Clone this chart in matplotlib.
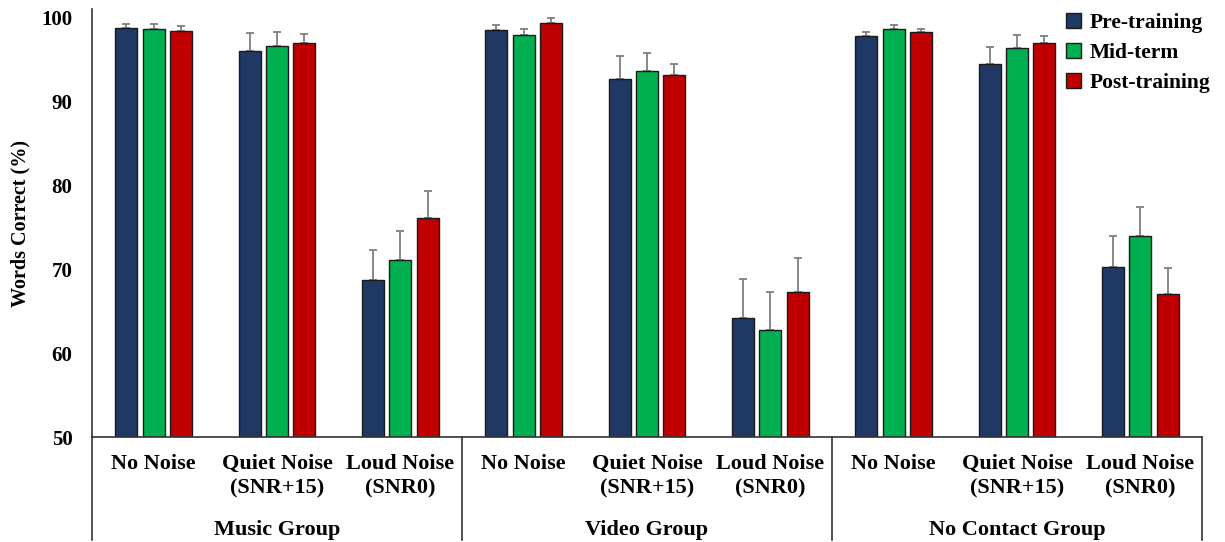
import matplotlib as mpl
import matplotlib.pyplot as plt
from matplotlib.patches import Patch
import numpy as np

conditions = ["No Noise", "Quiet Noise\n(SNR+15)", "Loud Noise\n(SNR0)"]
groups = ["Music Group", "Video Group", "No Contact Group"]
series = ["Pre-training", "Mid-term", "Post-training"]
colors = ["#1F3864", "#00B050", "#C00000"]

# means, ordered Music (3 conditions), Video, No Contact
pre = [98.7, 96.0, 68.7, 98.5, 92.7, 64.2, 97.8, 94.4, 70.3]
mid = [98.6, 96.6, 71.1, 97.9, 93.6, 62.8, 98.6, 96.3, 73.9]
post = [98.4, 96.9, 76.1, 99.3, 93.1, 67.3, 98.2, 96.9, 67.1]
# upper error bar tops
pre_top = [99.2, 98.1, 72.3, 99.1, 95.4, 68.8, 98.3, 96.5, 73.9]
mid_top = [99.2, 98.3, 74.6, 98.6, 95.7, 67.3, 99.1, 97.9, 77.4]
post_top = [99.0, 98.0, 79.3, 99.9, 94.4, 71.3, 98.6, 97.8, 70.1]

plt.rcParams["font.family"] = "Liberation Serif"
plt.rcParams["font.weight"] = "bold"
plt.rcParams["axes.labelweight"] = "bold"

fig = plt.figure(figsize=(12.25, 5.42), dpi=100)
ax = fig.add_axes([0.0751, 0.1937, 0.9061, 0.7897])

x = np.arange(9)
w = 0.178
step = 0.222
for k, (vals, tops) in enumerate([(pre, pre_top), (mid, mid_top), (post, post_top)]):
    vals = np.array(vals)
    err = np.array(tops) - vals
    ax.bar(x + (k - 1) * step, vals - 50, w, bottom=50, color=colors[k],
           edgecolor="#1a1a1a", linewidth=1.0, zorder=2)
    ax.errorbar(x + (k - 1) * step, vals, yerr=[np.zeros(9), err], fmt="none",
                ecolor="#7f7f7f", elinewidth=1.3, capsize=3, capthick=1.3, zorder=1)

ax.set_xlim(-0.5, 8.5)
ax.set_ylim(50, 101)
ax.set_yticks([50, 60, 70, 80, 90, 100])
ax.tick_params(axis="y", length=0, pad=14, labelsize=15)
ax.tick_params(axis="x", length=0, pad=12, labelsize=16)
ax.set_xticks(x)
ax.set_xticklabels(conditions * 3, linespacing=1.35)
ax.set_ylabel("Words Correct (%)", fontsize=14.5, labelpad=8)

for s in ["top", "right"]:
    ax.spines[s].set_visible(False)
for s in ["left", "bottom"]:
    ax.spines[s].set_color("#333333")
    ax.spines[s].set_linewidth(1.2)

trans = mpl.transforms.blended_transform_factory(ax.transData, ax.transAxes)
for b in [-0.5, 2.5, 5.5, 8.5]:
    ax.plot([b, b], [0, -0.24], transform=trans, color="#333333", lw=1.2, clip_on=False)
for g, name in enumerate(groups):
    ax.text(3 * g + 1, -0.218, name, transform=trans, ha="center", va="center", fontsize=16)

handles = [Patch(facecolor=c, edgecolor="#1a1a1a", label=l) for c, l in zip(colors, series)]
ax.legend(handles=handles, loc="upper right", bbox_to_anchor=(1.025, 1.035), frameon=False,
          fontsize=15.5, handlelength=0.7, handleheight=0.7, handletextpad=0.4, labelspacing=0.45)

fig.savefig("out.png", dpi=100)
